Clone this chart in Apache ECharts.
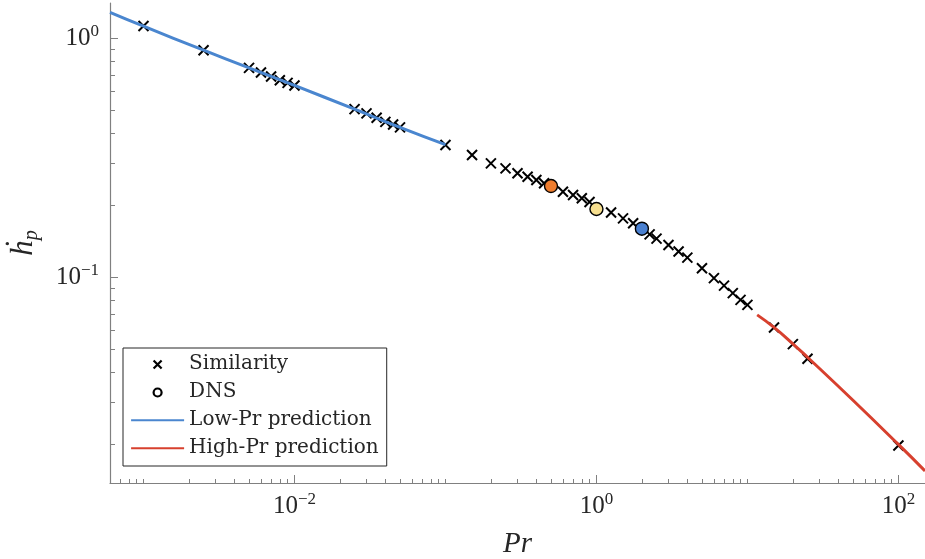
<!DOCTYPE html>
<html>
<head>
<meta charset="utf-8">
<script src="https://cdn.jsdelivr.net/npm/echarts@6/dist/echarts.min.js"></script>
<style>
  html, body { margin: 0; padding: 0; background: #fff; }
  #chart { width: 925px; height: 559px; }
</style>
</head>
<body>
<div id="chart"></div>
<script>
// 相似解 (Similarity)
var simPr = [0.001, 0.0025, 0.005, 0.006, 0.007, 0.008, 0.009, 0.01,
  0.025, 0.03, 0.035, 0.04, 0.045, 0.05, 0.1,
  0.15, 0.2, 0.25, 0.3, 0.35, 0.4, 0.45, 0.6, 0.7, 0.8, 0.9,
  1.25, 1.5, 1.75, 2.25, 2.5, 3, 3.5, 4, 5, 6, 7, 8, 9, 10,
  15, 20, 25, 100]
var simH = [1.122, 0.889, 0.750, 0.717, 0.690, 0.666, 0.649, 0.633,
  0.504, 0.484, 0.464, 0.446, 0.435, 0.423, 0.357,
  0.324, 0.299, 0.285, 0.272, 0.263, 0.255, 0.247, 0.2276, 0.2206, 0.2138, 0.2062,
  0.1865, 0.1762, 0.168, 0.151, 0.145, 0.1364, 0.128, 0.1207, 0.109, 0.0991, 0.0922, 0.0858, 0.0804, 0.0766,
  0.0616, 0.0525, 0.0456, 0.0198]

// DNS
var dnsPr = [0.5, 1, 2]
var dnsH = [0.2405, 0.1928, 0.1595]

// Low-Pr / High-Pr prediction curves
var lowPr = [0.0006, 0.001, 0.0025, 0.005, 0.01, 0.025, 0.05, 0.1]
var lowH = [1.28, 1.12, 0.889, 0.75, 0.633, 0.504, 0.423, 0.358]
var highPr = [11.6, 15, 20, 25, 50, 100, 150]
var highH = [0.0696, 0.0617, 0.0527, 0.0463, 0.0306, 0.0200, 0.0155]

// tick labels (powers of ten)
var xMajor = [0.01, 1, 100]
var yMajor = [0.1, 1]

var dnsColors = ['#ef7d2e', '#f7df8f', '#4a80d0']
var axisGray = '#808080'
var textColor = '#262626'
var serif = 'Liberation Serif'

var xMin = 6e-4, xMax = 150, yMin = 0.0138, yMax = 1.4

// 刻度位置 (log10), 叠加在 value 轴上
function minorTicks(lo, hi) {
  var out = []
  for (var e = -5; e <= 3; e++) {
    for (var k = 1; k <= 9; k++) {
      var v = k * Math.pow(10, e)
      if (v >= lo && v <= hi) out.push(Math.log10(v))
    }
  }
  return out
}
function exps(list) {
  return list.map(function (v) { return Math.log10(v) })
}

function zip(a, b) {
  return a.map(function (v, i) { return [v, b[i]] })
}

function powLabel(e) {
  e = Math.round(e)
  return '{b|10}{s|' + (e < 0 ? '\u2212' + (-e) : e) + '}'
}

var labelRich = {
  b: { fontFamily: serif, fontSize: 25, lineHeight: 30, color: textColor },
  s: { fontFamily: serif, fontSize: 17, lineHeight: 17, verticalAlign: 'top', color: textColor }
}
var tickLine = { color: axisGray, width: 1 }

var myChart = echarts.init(document.getElementById('chart'))
const option = {
  animation: false,
  backgroundColor: '#fff',
  grid: { left: 110, right: 0, top: 3, bottom: 76, outerBoundsMode: 'none', containLabel: false },
  legend: {
    orient: 'vertical',
    left: 123,
    top: 348,
    selectedMode: false,
    itemWidth: 53,
    itemHeight: 12,
    itemGap: 8,
    padding: [6, 8, 8, 7],
    borderColor: '#262626',
    borderWidth: 1,
    backgroundColor: '#fff',
    textStyle: { fontFamily: 'DejaVu Serif', fontSize: 20, color: textColor },
    data: [
      { name: 'Similarity', icon: 'path://M0,0M53,12M22.5,2.5L30.5,10.5M30.5,2.5L22.5,10.5',
        itemStyle: { color: 'rgba(0,0,0,0)', borderColor: '#000', borderWidth: 2.2, opacity: 1 } },
      { name: 'DNS', icon: 'path://M0,0M53,12M30.5,6.5A4,4,0,1,1,22.5,6.5A4,4,0,1,1,30.5,6.5Z',
        itemStyle: { color: '#fff', borderColor: '#000', borderWidth: 2.2, opacity: 1 } },
      { name: 'Low-Pr prediction', icon: 'path://M0,0M53,12M0,5.2H53V7.2H0Z',
        itemStyle: { color: '#4a86cf', borderWidth: 0, opacity: 1 } },
      { name: 'High-Pr prediction', icon: 'path://M0,0M53,12M0,5.2H53V7.2H0Z',
        itemStyle: { color: '#d7402e', borderWidth: 0, opacity: 1 } }
    ]
  },
  xAxis: [
    {
      type: 'log', logBase: 10, min: xMin, max: xMax, position: 'bottom',
      name: 'Pr', nameLocation: 'middle', nameGap: 47,
      nameTextStyle: { fontFamily: serif, fontStyle: 'italic', fontSize: 29, color: textColor },
      axisLine: { onZero: false, lineStyle: { color: axisGray, width: 1.2 } },
      axisTick: { show: false },
      axisLabel: { show: false },
      splitLine: { show: false }
    },
    {
      type: 'value', min: Math.log10(xMin), max: Math.log10(xMax), position: 'bottom', offset: 0,
      axisLine: { show: false, onZero: false },
      axisTick: { inside: true, length: 8, customValues: exps(xMajor), lineStyle: tickLine },
      axisLabel: { customValues: exps(xMajor), formatter: powLabel, rich: labelRich, margin: 8 },
      splitLine: { show: false }
    },
    {
      type: 'value', min: Math.log10(xMin), max: Math.log10(xMax), position: 'bottom', offset: 0,
      axisLine: { show: false, onZero: false },
      axisTick: { inside: true, length: 4, customValues: minorTicks(xMin, xMax), lineStyle: tickLine },
      axisLabel: { show: false },
      splitLine: { show: false }
    }
  ],
  yAxis: [
    {
      type: 'log', logBase: 10, min: yMin, max: yMax, position: 'left',
      name: '{h|ḣ}{p|p}', nameLocation: 'middle', nameGap: 68, nameRotate: 90,
      nameTextStyle: {
        rich: {
          h: { fontFamily: serif, fontStyle: 'italic', fontSize: 31, lineHeight: 36, color: textColor },
          p: { fontFamily: serif, fontStyle: 'italic', fontSize: 20, lineHeight: 14, verticalAlign: 'bottom', color: textColor }
        }
      },
      axisLine: { onZero: false, lineStyle: { color: axisGray, width: 1.2 } },
      axisTick: { show: false },
      axisLabel: { show: false },
      splitLine: { show: false }
    },
    {
      type: 'value', min: Math.log10(yMin), max: Math.log10(yMax), position: 'left', offset: 0,
      axisLine: { show: false, onZero: false },
      axisTick: { inside: true, length: 8, customValues: exps(yMajor), lineStyle: tickLine },
      axisLabel: { customValues: exps(yMajor), formatter: powLabel, rich: labelRich, margin: 11 },
      splitLine: { show: false }
    },
    {
      type: 'value', min: Math.log10(yMin), max: Math.log10(yMax), position: 'left', offset: 0,
      axisLine: { show: false, onZero: false },
      axisTick: { inside: true, length: 5, customValues: minorTicks(yMin, yMax), lineStyle: tickLine },
      axisLabel: { show: false },
      splitLine: { show: false }
    }
  ],
  series: [
    {
      name: 'Low-Pr prediction', type: 'line', smooth: true, symbol: 'none',
      xAxisIndex: 0, yAxisIndex: 0,
      lineStyle: { color: '#4a86cf', width: 3 },
      data: zip(lowPr, lowH)
    },
    {
      name: 'High-Pr prediction', type: 'line', smooth: true, symbol: 'none',
      xAxisIndex: 0, yAxisIndex: 0,
      lineStyle: { color: '#d7402e', width: 3 },
      data: zip(highPr, highH)
    },
    {
      name: 'Similarity', type: 'scatter',
      xAxisIndex: 0, yAxisIndex: 0,
      symbol: 'path://M0,0L10,10M10,0L0,10', symbolSize: 10,
      itemStyle: { color: 'rgba(0,0,0,0)', borderColor: '#000', borderWidth: 2, opacity: 1 },
      data: zip(simPr, simH)
    },
    {
      name: 'DNS', type: 'scatter',
      xAxisIndex: 0, yAxisIndex: 0,
      symbol: 'circle', symbolSize: 13,
      itemStyle: { borderColor: '#000', borderWidth: 1.4, opacity: 1 },
      data: dnsPr.map(function (p, i) {
        return { value: [p, dnsH[i]], itemStyle: { color: dnsColors[i] } }
      })
    }
  ]
}
myChart.setOption(option)
</script>
</body>
</html>
